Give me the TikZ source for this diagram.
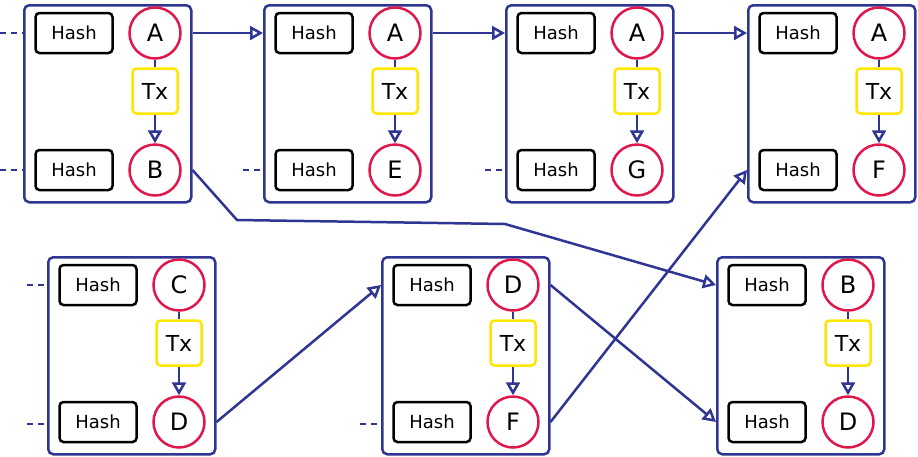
\documentclass[tikz,border=0pt]{standalone}
\usepackage{fontspec}
\setmainfont{DejaVu Sans}
\usetikzlibrary{arrows.meta}
\definecolor{bl}{HTML}{2E3592}
\definecolor{rd}{HTML}{E0174A}
\definecolor{yl}{HTML}{FFE600}
\tikzset{
 blk/.style={draw=bl,line width=2.5pt,rounded corners=5pt,minimum width=167pt,minimum height=197pt,inner sep=0},
 hash/.style={draw=black,line width=2.5pt,rounded corners=4pt,minimum width=77pt,minimum height=40pt,font=\fontsize{18}{20}\selectfont,inner sep=0},
 val/.style={circle,draw=rd,line width=2.5pt,minimum size=51pt,font=\fontsize{24}{26}\selectfont,inner sep=0},
 tx/.style={draw=yl,line width=2.5pt,rounded corners=4pt,minimum size=45pt,font=\fontsize{22}{24}\selectfont,inner sep=0},
 con/.style={draw=bl,line width=2.5pt},
 arr/.style={con,-{Triangle[open,length=13pt,width=14pt]}},
 dsh/.style={con,dash pattern=on 6pt off 5pt}
}
\newcommand\mkblock[6]{%
 \node[blk,anchor=north west] (#1) at (#2,#3) {};
 \node[hash] (#1h1) at (#2+51,#3+29) {Hash};
 \node[hash] (#1h2) at (#2+51,#3+166) {Hash};
 \node[val] (#1a) at (#2+132,#3+29) {#4};
 \node[tx] (#1t) at (#2+132,#3+87) {Tx};
 \node[val] (#1b) at (#2+132,#3+166) {#5};
 \draw[con] (#1a) -- (#1t);
 \draw[arr] (#1t) -- (#1b);
}
\begin{document}
\begin{tikzpicture}[x=1pt,y=-1pt]
\useasboundingbox (0,0) rectangle (918,456);
\mkblock{p}{23}{4}{A}{B}{}
\mkblock{q}{263}{4}{A}{E}{}
\mkblock{r}{505}{4}{A}{G}{}
\mkblock{s}{747}{4}{A}{F}{}
\mkblock{u}{47}{256}{C}{D}{}
\mkblock{v}{381}{256}{D}{F}{}
\mkblock{w}{716}{256}{B}{D}{}
% dashes
\coordinate (d1) at (0,33); \coordinate (d2) at (0,170);
\coordinate (d3) at (243,170); \coordinate (d4) at (485,170);
\coordinate (d5) at (27,285); \coordinate (d6) at (27,424);
\coordinate (d7) at (360,424);
\draw[dsh] (d1) -- (p.west|-d1);
\draw[dsh] (d2) -- (p.west|-d2);
\draw[dsh] (d3) -- (q.west|-d3);
\draw[dsh] (d4) -- (r.west|-d4);
\draw[dsh] (d5) -- (u.west|-d5);
\draw[dsh] (d6) -- (u.west|-d6);
\draw[dsh] (d7) -- (v.west|-d7);
% arrows
\draw[arr] (p.east|-pa) -- (q.west|-qa);
\draw[arr] (q.east|-qa) -- (r.west|-ra);
\draw[arr] (r.east|-ra) -- (s.west|-sa);
\coordinate (k1) at (237,220); \coordinate (k2) at (505,224);
\draw[arr] (p.east|-pb) -- (k1) -- (k2) -- (w.west|-wa);
\draw[arr] (u.east|-ub) -- (v.west|-va);
\draw[arr] (v.east|-vb) -- (s.west|-sb);
\draw[arr] (v.east|-va) -- (w.west|-wb);
\end{tikzpicture}
\end{document}
